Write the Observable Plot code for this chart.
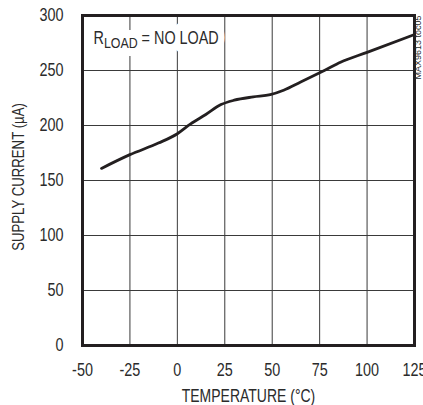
<!DOCTYPE html>
<html>
<head>
<meta charset="utf-8">
<script src="https://cdn.jsdelivr.net/npm/d3@7"></script>
<script src="https://cdn.jsdelivr.net/npm/@observablehq/plot@0.6"></script>
<style>
  html, body { margin: 0; padding: 0; background: #fff; }
  #chart { width: 423px; height: 405px; }
</style>
</head>
<body>
<div id="chart"></div>
<script>
// Data
const temperature = [-40, -25, -10, 0, 7, 15, 23, 30, 40, 49, 56, 65, 78, 86, 100, 124];
const supplyCurrent = [161, 173.5, 184, 192.5, 201.5, 210, 219, 223, 226, 228, 232, 239.5, 250.5, 257.5, 266.5, 282];
const xTicks = [-50, -25, 0, 25, 50, 75, 100, 125];
const yTicks = [0, 50, 100, 150, 200, 250, 300];
const xLabel = "TEMPERATURE (°C)";
const yLabel = "SUPPLY CURRENT (µA)";
const condition = "RLOAD = NO LOAD";
const partNote = "MAX9613 toc05";

const data = temperature.map((t, i) => ({t, c: supplyCurrent[i]}));
const ink = "#231f20";
const textInk = "#2b2b2b";
const font = "'Liberation Sans', Arial, Helvetica, sans-serif";
const narrow = 0.8; // horizontal compression to mimic a condensed face

const chart = Plot.plot({
  width: 423,
  height: 405,
  marginLeft: 82,
  marginRight: 9,
  marginTop: 15,
  marginBottom: 60,
  style: {fontFamily: font, fontSize: "17px", color: textInk, background: "#fff"},
  x: {domain: [-50, 125], ticks: xTicks},
  y: {domain: [0, 300], ticks: yTicks},
  marks: [
    Plot.gridX(xTicks, {stroke: "#3a3a3a", strokeOpacity: 1, strokeWidth: 1}),
    Plot.gridY(yTicks, {stroke: "#3a3a3a", strokeOpacity: 1, strokeWidth: 1}),
    Plot.axisX(xTicks, {tickSize: 0, tickPadding: 18, fontSize: 18, label: null, tickFormat: d => String(d), fill: textInk}),
    Plot.axisY(yTicks, {tickSize: 0, tickPadding: 19, fontSize: 18, label: null, tickFormat: d => String(d), fill: textInk}),
    // white backing behind the condition label (hides the grid)
    Plot.text([condition], {frameAnchor: "top-left", dx: 11, dy: 28, textAnchor: "start", lineAnchor: "bottom",
      fontSize: 18, fill: "white", stroke: "white", strokeWidth: 16}),
    Plot.text([condition], {frameAnchor: "top-left", dx: 11, dy: 28, textAnchor: "start", lineAnchor: "bottom",
      fontSize: 18, fill: textInk}),
    Plot.line(data, {x: "t", y: "c", stroke: ink, strokeWidth: 2.8, curve: "monotone-x"}),
    Plot.frame({stroke: ink, strokeWidth: 3}),
    Plot.text([xLabel], {frameAnchor: "bottom", dy: 56, textAnchor: "middle", lineAnchor: "bottom", fontSize: 17.5, fill: textInk}),
    Plot.text([yLabel], {frameAnchor: "left", dx: -59, dy: -3.5, rotate: -90, textAnchor: "middle", lineAnchor: "bottom", fontSize: 16.5, fill: textInk}),
    Plot.text([partNote], {frameAnchor: "top-right", dx: 4, dy: 0, rotate: -90, textAnchor: "end", lineAnchor: "middle", fontSize: 9, fill: textInk})
  ]
});

document.getElementById("chart").appendChild(chart);

// Condense every text around its own anchor, and set the subscript in the condition label
d3.select(chart).selectAll("text").each(function() {
  const el = d3.select(this);
  const tf = el.attr("transform");
  if (tf && this.textContent !== partNote) el.attr("transform", tf + ` scale(${narrow},1)`);
  if (this.textContent === condition) {
    el.text(null);
    el.append("tspan").text("R");
    el.append("tspan").attr("dy", "4.5").attr("font-size", "15.5").text("LOAD");
    el.append("tspan").attr("dy", "-4.5").text(" = NO LOAD");
  }
});
</script>
</body>
</html>
